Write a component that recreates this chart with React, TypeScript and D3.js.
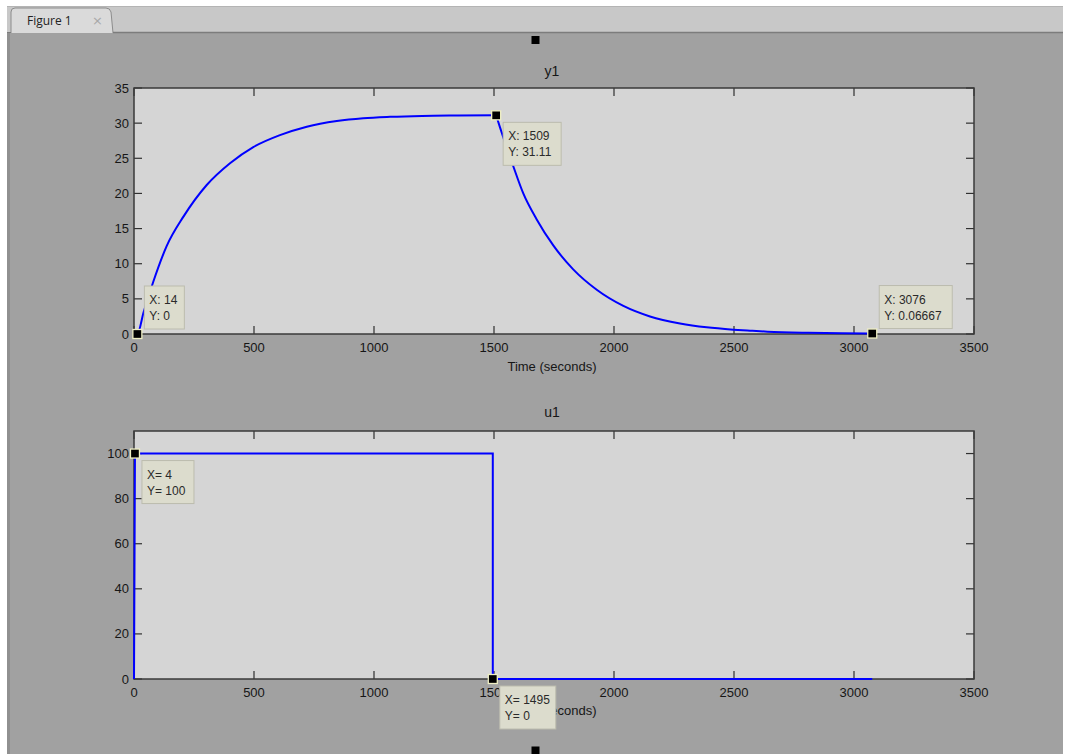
import React from "react";
import * as d3 from "d3";

// ---- data ----
const xTicks = [0, 500, 1000, 1500, 2000, 2500, 3000, 3500];
const y1Ticks = [0, 5, 10, 15, 20, 25, 30, 35];
const u1Ticks = [0, 20, 40, 60, 80, 100];

const y1Time = [0, 14, 40, 80, 136, 206, 303, 400, 497, 608, 720, 845, 955, 1067, 1200, 1350, 1509, 1525, 1580, 1622, 1678, 1747, 1830, 1928, 2039, 2150, 2275, 2386, 2497, 2567, 2640, 2810, 2950, 3076];
const y1Vals = [0, 0, 3.1, 7.4, 12.5, 16.7, 21.2, 24.3, 26.6, 28.3, 29.5, 30.3, 30.7, 30.9, 31.03, 31.08, 31.11, 29.4, 23.9, 20.0, 16.3, 12.6, 9.2, 6.3, 4.0, 2.5, 1.5, 0.95, 0.62, 0.47, 0.33, 0.17, 0.1, 0.067];
const y1SwitchTime = 1509;

const u1Time = [0, 4, 1495, 1495, 3076];
const u1Vals = [0, 100, 100, 0, 0];

// data tips
const tipAxis = ["y1", "y1", "y1", "u1", "u1"];
const tipX = [14, 1509, 3076, 4, 1495];
const tipY = [0, 31.11, 0.06667, 100, 0];
const tipLine1 = ["X: 14", "X: 1509", "X: 3076", "X= 4", "X= 1495"];
const tipLine2 = ["Y: 0", "Y: 31.11", "Y: 0.06667", "Y= 100", "Y= 0"];
const tipAbove = [true, false, true, false, false];
const tipWidth = [40, 58, 73, 52, 56];

const W = 1065;
const H = 754;
const FONT = "'Liberation Sans', Arial, Helvetica, sans-serif";

const xScale = d3.scaleLinear().domain([0, 3500]).range([134, 974]);
const yTop = d3.scaleLinear().domain([0, 35]).range([334, 88]);
const yBot = d3.scaleLinear().domain([0, 110]).range([679, 431]);

function Axes({ y, yTicks, title, titleY, xlabelY }: any) {
  const [x0, x1] = xScale.range();
  const [yb, yt] = y.range();
  const tl = 8;
  return (
    <g>
      <rect x={x0} y={yt} width={x1 - x0} height={yb - yt} fill="#d5d5d5" />
      {xTicks.map((t) => (
        <g key={"x" + t}>
          <line x1={xScale(t)} x2={xScale(t)} y1={yb} y2={yb - tl} stroke="#303030" strokeWidth={1.2} />
          <line x1={xScale(t)} x2={xScale(t)} y1={yt} y2={yt + tl} stroke="#303030" strokeWidth={1.2} />
          <text x={xScale(t)} y={yb + 18} textAnchor="middle" fontSize={13} fontFamily={FONT} fill="#161616">
            {t}
          </text>
        </g>
      ))}
      {yTicks.map((t: number) => (
        <g key={"y" + t}>
          <line x1={x0} x2={x0 + tl} y1={y(t)} y2={y(t)} stroke="#303030" strokeWidth={1.2} />
          <line x1={x1} x2={x1 - tl} y1={y(t)} y2={y(t)} stroke="#303030" strokeWidth={1.2} />
          <text x={x0 - 5} y={y(t) + 4.5} textAnchor="end" fontSize={13} fontFamily={FONT} fill="#161616">
            {t}
          </text>
        </g>
      ))}
      <rect x={x0} y={yt} width={x1 - x0} height={yb - yt} fill="none" stroke="#3a3a3a" strokeWidth={1.5} />
      <text x={552} y={titleY} textAnchor="middle" fontSize={14} fontFamily={FONT} fill="#161616">
        {title}
      </text>
      <text x={552} y={xlabelY} textAnchor="middle" fontSize={13} fontFamily={FONT} fill="#161616">
        Time (seconds)
      </text>
    </g>
  );
}

export default function App() {
  const pts: [number, number][] = y1Time.map((t, i) => [t, y1Vals[i]]);
  const k = y1Time.indexOf(y1SwitchTime);
  const rise = pts.slice(0, k + 1);
  const fall = pts.slice(k);
  const lineTop = d3
    .line<[number, number]>()
    .x((d) => xScale(d[0]))
    .y((d) => yTop(d[1]))
    .curve(d3.curveMonotoneX);
  const lineBot = d3
    .line<number>()
    .x((_, i) => xScale(u1Time[i]))
    .y((v) => yBot(v));

  const tabPath = "M 11 33 L 11 12 Q 11 8 15 8 L 106 8 Q 110 8 111 12 L 113 33";

  return (
    <div style={{ position: "fixed", left: 0, top: 0 }}>
      <svg width={W} height={H} style={{ display: "block" }}>
        <rect x={0} y={0} width={W} height={H} fill="#ffffff" />
        {/* tab bar */}
        <rect x={7} y={6} width={1056} height={27} fill="#c8c8c8" />
        <line x1={7} x2={1063} y1={6.5} y2={6.5} stroke="#b4b4b4" />
        <path d={tabPath} fill="#dadada" stroke="#8c8c8c" strokeWidth={1} />
        <text x={27} y={25} fontSize={12} fontFamily="'Open Sans', 'Noto Sans', sans-serif" fill="#222">
          Figure 1
        </text>
        <text x={92} y={25} fontSize={13} fontFamily="'DejaVu Sans', sans-serif" fill="#a8a8a8">
          ×
        </text>
        {/* figure area */}
        <rect x={7} y={33} width={1056} height={H - 33} fill="#a1a1a1" />
        <line x1={7} x2={11} y1={32.5} y2={32.5} stroke="#7c7c7c" />
        <line x1={113} x2={1063} y1={32.5} y2={32.5} stroke="#7c7c7c" strokeWidth={1.5} />
        <rect x={7} y={33} width={3} height={H - 33} fill="#909090" />
        <rect x={531.5} y={36} width={8} height={8} fill="#000" />
        <rect x={531.5} y={746.5} width={8} height={8} fill="#000" />

        <Axes y={yTop} yTicks={y1Ticks} title="y1" titleY={76} xlabelY={371} />
        <Axes y={yBot} yTicks={u1Ticks} title="u1" titleY={417} xlabelY={715} />

        <path d={lineTop(rise) || ""} fill="none" stroke="#0000ff" strokeWidth={2} strokeLinejoin="round" />
        <path d={lineTop(fall) || ""} fill="none" stroke="#0000ff" strokeWidth={2} strokeLinejoin="round" />
        <path d={lineBot(u1Vals) || ""} fill="none" stroke="#0000ff" strokeWidth={2} />

        {tipX.map((tx, i) => {
          const ys = tipAxis[i] === "y1" ? yTop : yBot;
          const mx = xScale(tx);
          const my = ys(tipY[i]);
          const bw = tipWidth[i];
          const bh = 43;
          const bx = mx + 7;
          const by = tipAbove[i] ? my - 5 - bh : my + 7;
          return (
            <g key={"tip" + i}>
              <rect x={bx} y={by} width={bw} height={bh} fill="#dcdccd" stroke="#bcbcae" strokeWidth={1} />
              <text x={bx + 5} y={by + 18} fontSize={12} fontFamily={FONT} fill="#2a2a2a">
                {tipLine1[i]}
              </text>
              <text x={bx + 5} y={by + 34} fontSize={12} fontFamily={FONT} fill="#2a2a2a">
                {tipLine2[i]}
              </text>
              <rect x={mx - 4.5} y={my - 4.5} width={9} height={9} fill="#000" stroke="#efefc4" strokeWidth={1.3} />
            </g>
          );
        })}
      </svg>
    </div>
  );
}
